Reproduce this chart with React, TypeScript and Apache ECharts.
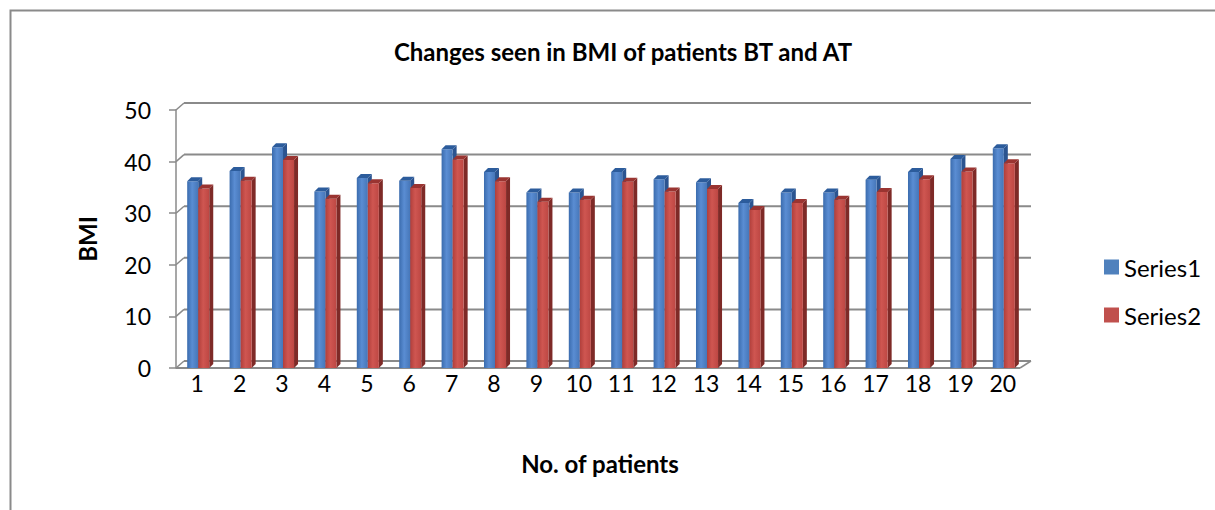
import React, { useEffect, useRef } from "react";
import * as echarts from "echarts";

const categories = ["1","2","3","4","5","6","7","8","9","10","11","12","13","14","15","16","17","18","19","20"];
const series1 = [36.2, 38.2, 42.8, 34.2, 36.8, 36.3, 42.4, 38.0, 34.0, 34.0, 38.0, 36.6, 36.0, 32.0, 34.0, 34.0, 36.5, 38.0, 40.5, 42.6];
const series2 = [34.8, 36.3, 40.3, 32.8, 35.8, 34.9, 40.4, 36.2, 32.2, 32.6, 36.1, 34.2, 34.7, 30.6, 32.0, 32.6, 34.1, 36.6, 38.1, 39.7];
const yTicks = [0, 10, 20, 30, 40, 50];

const FONT = "Lato, 'Open Sans', sans-serif";
const DX = 8;
const DY = -7;

function bar3D(name: string, data: number[], colors: { face: string[]; side: string; top: string; legend: string }, offset: number) {
  return {
    type: "custom",
    name,
    z: 3,
    data: data.map((v, i) => [i, v]),
    encode: { x: 0, y: 1 },
    itemStyle: { color: colors.legend },
    renderItem: (params: any, api: any) => {
      const i = api.value(0);
      const v = api.value(1);
      const base = api.coord([i, 0]);
      const tp = api.coord([i, v]);
      const band = api.size([1, 0])[0];
      const w = band * 0.26;
      const x0 = base[0] + offset * band;
      const yb = base[1];
      const yt = tp[1];
      const d = 4;
      return {
        type: "group",
        children: [
          {
            type: "polygon",
            shape: { points: [[x0 + w, yt], [x0 + w + d, yt - d], [x0 + w + d, yb - d], [x0 + w, yb]] },
            style: { fill: colors.side },
          },
          {
            type: "rect",
            shape: { x: x0, y: yt, width: w, height: yb - yt },
            style: {
              fill: new echarts.graphic.LinearGradient(0, 0, 1, 0, [
                { offset: 0, color: colors.face[0] },
                { offset: 0.45, color: colors.face[1] },
                { offset: 1, color: colors.face[2] },
              ]),
            },
          },
          {
            type: "polygon",
            shape: { points: [[x0, yt], [x0 + d, yt - d], [x0 + w + d, yt - d], [x0 + w, yt]] },
            style: { fill: colors.top },
          },
        ],
      };
    },
  };
}

export default function App() {
  const ref = useRef<HTMLDivElement>(null);
  useEffect(() => {
    document.body.style.margin = "0";
    const chart = echarts.init(ref.current!, null, { renderer: "svg" });
    const wallColor = "#8a8a8a";
    chart.setOption({
      animation: false,
      backgroundColor: "#ffffff",
      title: {
        text: "Changes seen in BMI of patients BT and AT",
        left: 618,
        textAlign: "center",
        top: 34,
        textStyle: { fontFamily: FONT, fontWeight: "bold", fontSize: 24, color: "#000" },
      },
      legend: {
        orient: "vertical",
        left: 1104,
        top: 255,
        padding: 0,
        itemWidth: 15,
        itemHeight: 15,
        itemGap: 24,
        icon: "rect",
        data: ["Series1", "Series2"],
        textStyle: { fontFamily: FONT, fontSize: 24, color: "#000" },
      },
      grid: { left: 176, right: 191, top: 110, bottom: 142 },
      xAxis: {
        type: "category",
        data: categories,
        axisLine: { show: false },
        axisTick: { show: false },
        axisLabel: { margin: 3, fontFamily: FONT, fontSize: 23, color: "#000" },
        name: "No. of patients",
        nameLocation: "middle",
        nameGap: 83,
        nameTextStyle: { fontFamily: FONT, fontWeight: "bold", fontSize: 24, color: "#000" },
      },
      yAxis: {
        type: "value",
        min: 0,
        max: 50,
        interval: 10,
        splitLine: { show: false },
        axisLine: { show: true, lineStyle: { color: wallColor, width: 1.5 } },
        axisTick: { show: true, length: 7, lineStyle: { color: wallColor, width: 1.5 } },
        axisLabel: { margin: 25, fontFamily: FONT, fontSize: 23, color: "#000" },
        name: "BMI",
        nameLocation: "middle",
        nameGap: 77,
        nameTextStyle: { fontFamily: FONT, fontWeight: "bold", fontSize: 24, color: "#000" },
      },
      graphic: [
        {
          type: "rect",
          shape: { x: 10.5, y: 10.5, width: 1400, height: 700 },
          style: { fill: "none", stroke: "#8a8a8a", lineWidth: 2 },
          silent: true,
        },
      ],
      series: [
        {
          type: "custom",
          name: "walls",
          z: 1,
          silent: true,
          data: yTicks.map((v) => [0, v]),
          encode: { x: 0, y: 1 },
          renderItem: (params: any, api: any) => {
            const cs = params.coordSys;
            const v = api.value(1);
            const p = api.coord([0, v]);
            const y = p[1];
            const left = cs.x;
            const right = cs.x + cs.width;
            const children: any[] = [
              {
                type: "line",
                shape: { x1: left, y1: y, x2: left + DX, y2: y + DY },
                style: { stroke: wallColor, lineWidth: 1.5 },
              },
              {
                type: "line",
                shape: { x1: left + DX, y1: y + DY, x2: right + DX - 1, y2: y + DY },
                style: { stroke: wallColor, lineWidth: 2 },
              },
            ];
            if (v === 0) {
              children.push(
                {
                  type: "line",
                  shape: { x1: left, y1: y, x2: right - 4, y2: y },
                  style: { stroke: wallColor, lineWidth: 2 },
                },
                {
                  type: "line",
                  shape: { x1: right - 4, y1: y, x2: right + DX - 1, y2: y + DY },
                  style: { stroke: wallColor, lineWidth: 1.5 },
                }
              );
            }
            return { type: "group", children };
          },
        },
        bar3D("Series1", series1, { face: ["#3b6cae", "#5a8dd3", "#4676b8"], side: "#2b5490", top: "#2c5c9c", legend: "#4f81bd" }, -0.236),
        bar3D("Series2", series2, { face: ["#b13f3b", "#cf5651", "#bd4743"], side: "#7e2a27", top: "#9a3431", legend: "#c0504d" }, 0.024),
      ],
    });
    return () => chart.dispose();
  }, []);
  return <div ref={ref} style={{ position: "absolute", left: 0, top: 0, width: 1215, height: 510 }} />;
}
